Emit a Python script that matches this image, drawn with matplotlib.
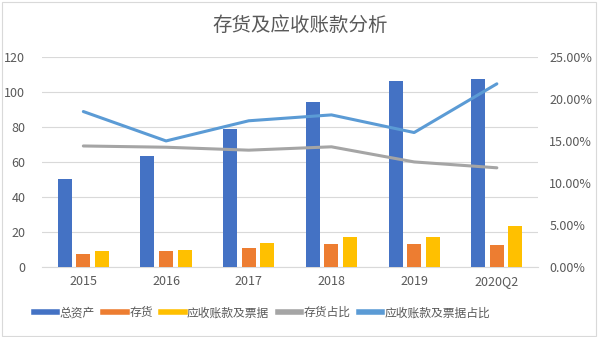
import matplotlib
matplotlib.use('Agg')
import matplotlib.pyplot as plt
import numpy as np
from matplotlib.lines import Line2D
from matplotlib.patches import Rectangle

plt.rcParams['font.family'] = ['Noto Sans CJK SC', 'DejaVu Sans']

# 数据
categories = ['2015', '2016', '2017', '2018', '2019', '2020Q2']
total_assets = [50.1, 63.6, 78.9, 94.3, 106.3, 107.2]
inventory = [7.2, 9.1, 10.9, 13.3, 13.3, 12.4]
receivables = [9.1, 9.5, 13.7, 17.0, 17.0, 23.4]
inventory_ratio = [14.4, 14.25, 13.9, 14.3, 12.5, 11.8]
receivables_ratio = [18.5, 15.0, 17.4, 18.1, 16.0, 21.8]

c_total = '#4472C4'
c_inv = '#ED7D31'
c_rec = '#FFC000'
c_inv_r = '#A5A5A5'
c_rec_r = '#5B9BD5'
txt = '#595959'

fig = plt.figure(figsize=(6, 3.37), dpi=100)
fig.patch.set_facecolor('white')
ax = fig.add_axes([0.07, 0.208, 0.827, 0.623])
ax2 = ax.twinx()

x = np.arange(len(categories))
w = 0.17
off = 0.225
ax.bar(x - off, total_assets, w, color=c_total, zorder=3)
ax.bar(x, inventory, w, color=c_inv, zorder=3)
ax.bar(x + off, receivables, w, color=c_rec, zorder=3)

ax2.plot(x, inventory_ratio, color=c_inv_r, lw=2.2, solid_capstyle='round')
ax2.plot(x, receivables_ratio, color=c_rec_r, lw=2.2, solid_capstyle='round')

ax.set_xlim(-0.5, len(categories) - 0.5)
ax.set_ylim(0, 120)
ax.set_yticks(range(0, 121, 20))
ax2.set_ylim(0, 25)
ax2.set_yticks(range(0, 26, 5))
ax2.set_yticklabels([f'{v:.2f}%' for v in range(0, 26, 5)])

ax.set_xticks(x)
ax.set_xticklabels(categories)
ax.grid(axis='y', color='#D9D9D9', lw=0.8, zorder=0)
for a in (ax, ax2):
    for s in a.spines.values():
        s.set_visible(False)
    a.tick_params(length=0, colors=txt, labelsize=9)
ax.spines['bottom'].set_visible(True)
ax.spines['bottom'].set_color('#D9D9D9')
ax.tick_params(axis='y', pad=12)
ax2.tick_params(axis='y', pad=8)
ax.tick_params(axis='x', pad=6)

fig.text(0.5, 0.925, '存货及应收账款分析', ha='center', va='center',
         fontsize=14, color=txt)

handles = [Line2D([], [], color=c, lw=4) for c in
           (c_total, c_inv, c_rec, c_inv_r, c_rec_r)]
labels = ['总资产', '存货', '应收账款及票据', '存货占比', '应收账款及票据占比']
fig.legend(handles, labels, loc='center', bbox_to_anchor=(0.437, 0.072), ncol=5,
           frameon=False, fontsize=8.5, handlelength=2.0, handletextpad=0.2,
           columnspacing=0.7, labelcolor=txt)

fig.add_artist(Rectangle((0.004, 0.004), 0.99, 0.99, transform=fig.transFigure,
                         fill=False, edgecolor='#D9D9D9', lw=0.8))

fig.savefig('out.png', dpi=100)
